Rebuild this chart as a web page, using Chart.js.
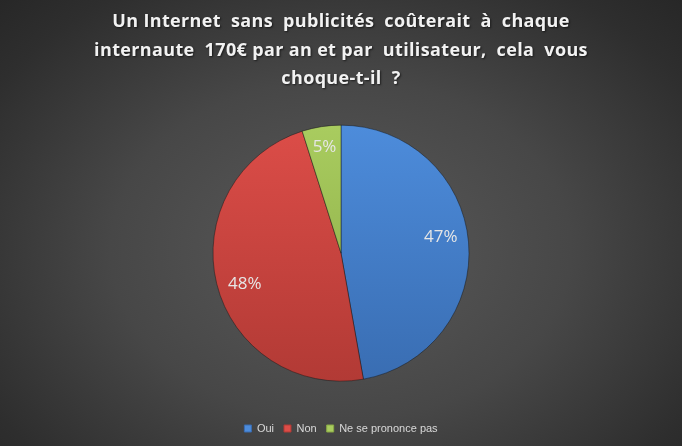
<!DOCTYPE html>
<html>
<head>
<meta charset="utf-8">
<script src="https://cdn.jsdelivr.net/npm/chart.js@4/dist/chart.umd.min.js"></script>
<style>
  html, body { margin: 0; padding: 0; }
  #wrap {
    width: 682px; height: 446px; position: relative;
    background: radial-gradient(ellipse 75% 85% at 50% 56%, #5a5a5a 0%, #474747 45%, #2e2e2e 80%, #242424 100%);
  }
</style>
</head>
<body>
<div id="wrap"><canvas id="pie" width="682" height="446"></canvas></div>
<script>
// data
var titleLines = [
  'Un Internet  sans  publicités  coûterait  à  chaque',
  'internaute  170€ par an et par  utilisateur,  cela  vous',
  'choque-t-il  ?'
];
var categories = ['Oui', 'Non', 'Ne se prononce pas'];
var values = [47.2, 47.9, 4.9];
var pctLabels = ['47%', '48%', '5%'];

// top / bottom shades for each slice
var topColors = ['#4d8cdb', '#dc4d48', '#a9cc5f'];
var bottomColors = ['#396db2', '#b23a35', '#88a844'];

function sliceFill(ctx) {
  var chart = ctx.chart;
  var area = chart.chartArea;
  var i = ctx.dataIndex;
  if (!area) return topColors[i];
  var cy = (area.top + area.bottom) / 2;
  var g = chart.ctx.createLinearGradient(0, cy - 128, 0, cy + 128);
  g.addColorStop(0, topColors[i]);
  g.addColorStop(1, bottomColors[i]);
  return g;
}

// wider, shadowed title text like the original
var titleStyle = {
  id: 'titleStyle',
  afterInit: function (chart) {
    var block = chart.titleBlock;
    if (!block) return;
    var draw = block.draw;
    block.draw = function () {
      var ctx = chart.ctx;
      ctx.save();
      ctx.letterSpacing = '0.35px';
      ctx.shadowColor = 'rgba(0,0,0,0.6)';
      ctx.shadowOffsetX = 1;
      ctx.shadowOffsetY = 1;
      ctx.shadowBlur = 2;
      draw.apply(this, arguments);
      ctx.restore();
    };
  }
};

// draw the percentage inside each slice
var sliceLabels = {
  id: 'sliceLabels',
  afterDatasetsDraw: function (chart) {
    var ctx = chart.ctx;
    var arcs = chart.getDatasetMeta(0).data;
    ctx.save();
    ctx.font = '17px "Open Sans", sans-serif';
    ctx.fillStyle = '#e6e6e6';
    ctx.textAlign = 'center';
    ctx.textBaseline = 'middle';
    arcs.forEach(function (arc, i) {
      var p = arc.getProps(['x', 'y', 'startAngle', 'endAngle', 'outerRadius'], true);
      var mid = (p.startAngle + p.endAngle) / 2 - (values[i] < 10 ? 0 : 0.07);
      var r = p.outerRadius * (values[i] < 10 ? 0.84 : 0.79);
      ctx.fillText(pctLabels[i], p.x + Math.cos(mid) * r, p.y + Math.sin(mid) * r);
    });
    ctx.restore();
  }
};

new Chart(document.getElementById('pie'), {
  type: 'pie',
  data: {
    labels: categories,
    datasets: [{
      data: values,
      backgroundColor: sliceFill,
      borderColor: 'rgba(20,20,20,0.45)',
      borderWidth: 1,
      radius: 128
    }]
  },
  options: {
    responsive: false,
    animation: false,
    layout: { padding: { bottom: 2 } },
    plugins: {
      title: {
        display: true,
        text: titleLines,
        color: '#f2f2f2',
        font: { family: '"Open Sans", sans-serif', size: 18, weight: 'bold', lineHeight: 1.58 },
        padding: { top: 8, bottom: 0 }
      },
      legend: {
        position: 'bottom',
        labels: {
          color: '#d9d9d9',
          boxWidth: 7,
          boxHeight: 7,
          padding: 10,
          font: { family: '"Liberation Sans", sans-serif', size: 11 },
          generateLabels: function (chart) {
            return categories.map(function (c, i) {
              return {
                text: c,
                fillStyle: topColors[i],
                strokeStyle: bottomColors[i],
                lineWidth: 1,
                fontColor: '#d9d9d9',
                index: i
              };
            });
          }
        }
      },
      tooltip: { enabled: false }
    }
  },
  plugins: [titleStyle, sliceLabels]
});
</script>
</body>
</html>
